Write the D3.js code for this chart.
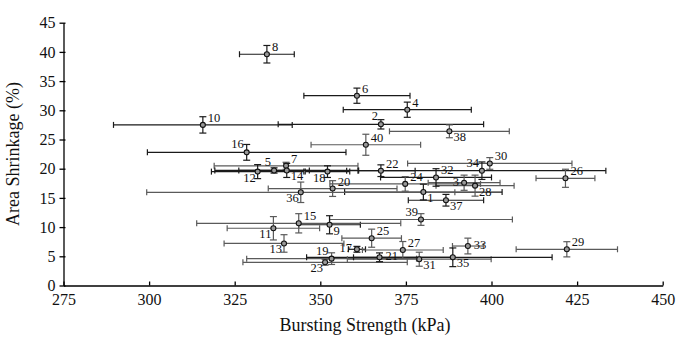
<!DOCTYPE html>
<html><head><meta charset="utf-8">
<script src="https://cdn.jsdelivr.net/npm/d3@7/dist/d3.min.js"></script>
<style>body{margin:0;background:#fff}svg{display:block}</style>
</head><body><svg id="c" width="678" height="340" font-family="'Liberation Serif','Times New Roman',Times,serif"></svg>
<script>
// Sample ids
const ids      = [1,2,3,4,5,6,7,8,9,10,11,12,13,14,15,16,17,18,19,20,21,22,23,24,25,26,27,28,29,30,31,32,33,34,35,36,37,38,39,40];
// Bursting strength (kPa) mean and error
const burst    = [380.1,367.7,392.0,375.4,336.5,360.7,340.0,334.4,352.7,315.7,336.3,331.7,339.4,340.2,343.7,328.5,360.7,352.1,353.3,353.6,367.3,367.7,351.4,374.8,365.0,421.6,374.1,395.2,422.0,399.5,378.9,383.8,393.1,397.2,388.7,344.3,386.7,387.7,379.4,363.3];
const burstErr = [23,30,10.5,18.7,10.3,15.5,21,8,9,26.1,13.5,13.5,17.5,21,29.8,29,2.5,6.5,24.8,18.8,21.3,10,24,22,8.7,8.6,11.8,11.4,14.8,24,21,16.2,4.5,36.2,29,45,11,17.5,26.7,16];
// Area shrinkage (%) mean and error
const shrink   = [16.0,27.6,17.6,30.1,19.7,32.5,20.5,39.6,10.4,27.5,9.8,19.5,7.2,19.7,10.65,22.8,6.2,19.5,4.6,16.6,4.83,19.66,3.97,17.4,8.1,18.36,6.08,17.1,6.2,20.9,4.5,18.5,6.76,19.66,4.83,15.96,14.6,26.4,11.3,24.1];
const shrinkErr= [1.35,0.8,1.3,1.3,0.45,1.3,0.6,1.5,1.55,1.4,2,1.2,1.5,1.2,1.65,1.35,0.5,1.0,1.0,1.35,0.75,1.0,0.5,1.25,1.55,1.55,1.45,1.8,1.3,1.0,1.2,1.5,1.35,1.5,1.6,1.75,1.0,1.1,1.0,1.8];
// label anchor relative to marker
const labelSide= ["br","tl","l","tr","tl","tr","tr","tr","br","tr","bl","bl","bl","br","tr","tl","l","bl","tl","tr","r","tr","bl","tr","tr","tr","tr","br","tr","tr","br","tr","r","tl","br","bl","br","br","tl","tr"];
const grayIds  = [3,7,11,13,15,19,20,23,24,25,26,27,28,29,30,31,33,36,38,39,40];
const xTicks = [275,300,325,350,375,400,425,450];
const yTicks = [0,5,10,15,20,25,30,35,40,45];

const FONT = "'Liberation Serif','Times New Roman',Times,serif";
const svg = d3.select("#c");
const L=63.5, R=662.7, T=22.7, B=285.5;
const x = d3.scaleLinear().domain([275,450]).range([L,R]);
const y = d3.scaleLinear().domain([0,45]).range([B,T]);

const data = ids.map((id,i)=>({id,bx:burst[i],be:burstErr[i],sy:shrink[i],se:shrinkErr[i],side:labelSide[i],gray:grayIds.includes(id)}));

// axes
const xa = svg.append("g").attr("transform",`translate(0,${B})`)
  .call(d3.axisBottom(x).tickValues(xTicks).tickSizeInner(-4).tickSizeOuter(0).tickPadding(8));
const ya = svg.append("g").attr("transform",`translate(${L},0)`)
  .call(d3.axisLeft(y).tickValues(yTicks).tickSizeInner(4).tickSizeOuter(0).tickPadding(4));
[xa,ya].forEach(a=>{a.attr("font-family",FONT).attr("font-size",16);
  a.selectAll("path,line").attr("stroke","#000").attr("stroke-width",1.3);
  a.selectAll("text").attr("font-family",FONT).attr("font-size",16).attr("fill","#111");});
ya.selectAll(".tick line").attr("x2",-4).attr("x1",2);

svg.append("text").attr("x",(L+R)/2+2).attr("y",331).attr("text-anchor","middle")
  .attr("font-size",18).attr("fill","#111").text("Bursting Strength (kPa)");
svg.append("text").attr("transform",`translate(19,${(T+B)/2}) rotate(-90)`).attr("text-anchor","middle")
  .attr("font-size",18).attr("fill","#111").text("Area Shrinkage (%)");

const g = svg.append("g");
const col = d=>d.gray?"#5a5a5a":"#1a1a1a";
// horizontal error bars
data.forEach(d=>{
  const c=col(d), x0=x(d.bx-d.be), x1=x(d.bx+d.be), yy=y(d.sy);
  g.append("line").attr("x1",x0).attr("x2",x1).attr("y1",yy).attr("y2",yy).attr("stroke",c).attr("stroke-width",1.2);
  [x0,x1].forEach(xx=>g.append("line").attr("x1",xx).attr("x2",xx).attr("y1",yy-3).attr("y2",yy+3).attr("stroke",c).attr("stroke-width",1.2));
});
// vertical error bars
data.forEach(d=>{
  const c=col(d), y0=y(d.sy-d.se), y1=y(d.sy+d.se), xx=x(d.bx);
  g.append("line").attr("x1",xx).attr("x2",xx).attr("y1",y0).attr("y2",y1).attr("stroke",c).attr("stroke-width",1.2);
  [y0,y1].forEach(v=>g.append("line").attr("x1",xx-3.5).attr("x2",xx+3.5).attr("y1",v).attr("y2",v).attr("stroke",c).attr("stroke-width",1.2));
});
// markers
g.selectAll("circle").data(data).join("circle")
  .attr("cx",d=>x(d.bx)).attr("cy",d=>y(d.sy)).attr("r",2.5)
  .attr("fill","#999").attr("stroke","#111").attr("stroke-width",1.1);
// labels
const off = {tr:[5,-3,"start"],tl:[-3,-4,"end"],br:[4,10,"start"],bl:[-2,10,"end"],r:[6,3,"start"],l:[-5,3,"end"]};
g.selectAll("text.lab").data(data).join("text").attr("class","lab")
  .attr("x",d=>x(d.bx)+off[d.side][0]).attr("y",d=>y(d.sy)+off[d.side][1])
  .attr("text-anchor",d=>off[d.side][2]).attr("font-size",12.5).attr("fill","#111")
  .text(d=>d.id);
</script></body></html>
